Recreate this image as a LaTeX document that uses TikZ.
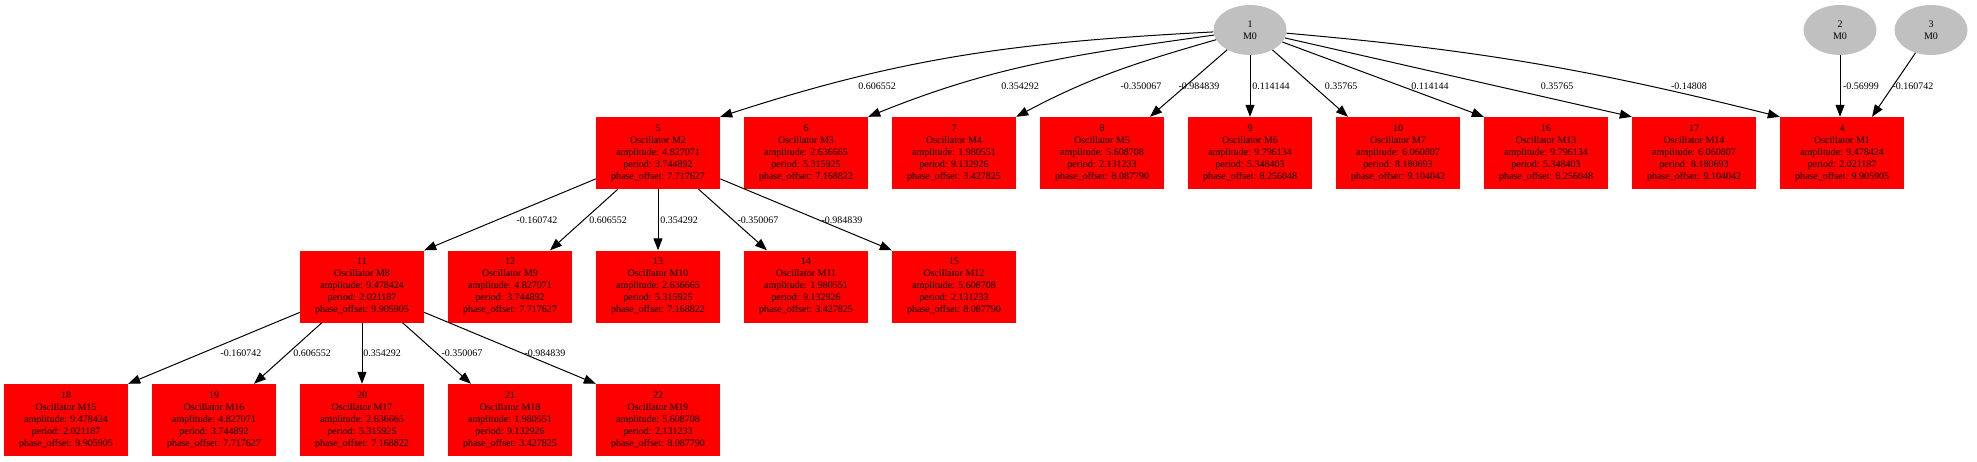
\documentclass[tikz,border=0pt]{standalone}
\usepackage{fontspec}
\setmainfont{Liberation Serif}
\usetikzlibrary{shapes.geometric, arrows.meta}
\definecolor{srcgray}{RGB}{192,192,192}

\begin{document}
\begin{tikzpicture}[x=1pt, y=1pt,
  osc/.style={rectangle, fill=red, minimum width=124pt, minimum height=72pt, inner sep=0pt, align=center, font=\fontsize{10}{12}\selectfont},
  src/.style={ellipse, fill=srcgray, minimum width=73pt, minimum height=50pt, inner sep=0pt, align=center, font=\fontsize{10}{12}\selectfont},
  link/.style={-{Triangle[length=12pt, width=9pt]}, line width=1pt},
  lbl/.style={inner sep=0pt, font=\fontsize{10}{12}\selectfont}]
\useasboundingbox (0,0) rectangle (1977,461);
\node[src] (n1) at (1250,431) {1\\M0};
\node[src] (n2) at (1840,431) {2\\M0};
\node[src] (n3) at (1931,431) {3\\M0};
\node[osc] (n5) at (658,308) {5\\Oscillator M2\\amplitude: 4.827071\\period: 3.744892\\phase\_offset: 7.717627};
\node[osc] (n6) at (806,308) {6\\Oscillator M3\\amplitude: 2.636665\\period: 5.315925\\phase\_offset: 7.168822};
\node[osc] (n7) at (954,308) {7\\Oscillator M4\\amplitude: 1.980551\\period: 9.132926\\phase\_offset: 3.427825};
\node[osc] (n8) at (1102,308) {8\\Oscillator M5\\amplitude: 5.608708\\period: 2.131233\\phase\_offset: 8.087790};
\node[osc] (n9) at (1250,308) {9\\Oscillator M6\\amplitude: 9.796134\\period: 5.348403\\phase\_offset: 8.256048};
\node[osc] (n10) at (1398,308) {10\\Oscillator M7\\amplitude: 6.060807\\period: 8.180693\\phase\_offset: 9.104042};
\node[osc] (n16) at (1546,308) {16\\Oscillator M13\\amplitude: 9.796134\\period: 5.348403\\phase\_offset: 8.256048};
\node[osc] (n17) at (1694,308) {17\\Oscillator M14\\amplitude: 6.060807\\period: 8.180693\\phase\_offset: 9.104042};
\node[osc] (n4) at (1842,308) {4\\Oscillator M1\\amplitude: 9.478424\\period: 2.021187\\phase\_offset: 9.905905};
\node[osc] (n11) at (362,174.5) {11\\Oscillator M8\\amplitude: 9.478424\\period: 2.021187\\phase\_offset: 9.905905};
\node[osc] (n12) at (510,174.5) {12\\Oscillator M9\\amplitude: 4.827071\\period: 3.744892\\phase\_offset: 7.717627};
\node[osc] (n13) at (658,174.5) {13\\Oscillator M10\\amplitude: 2.636665\\period: 5.315925\\phase\_offset: 7.168822};
\node[osc] (n14) at (806,174.5) {14\\Oscillator M11\\amplitude: 1.980551\\period: 9.132926\\phase\_offset: 3.427825};
\node[osc] (n15) at (954,174.5) {15\\Oscillator M12\\amplitude: 5.608708\\period: 2.131233\\phase\_offset: 8.087790};
\node[osc] (n18) at (66,41) {18\\Oscillator M15\\amplitude: 9.478424\\period: 2.021187\\phase\_offset: 9.905905};
\node[osc] (n19) at (214,41) {19\\Oscillator M16\\amplitude: 4.827071\\period: 3.744892\\phase\_offset: 7.717627};
\node[osc] (n20) at (362,41) {20\\Oscillator M17\\amplitude: 2.636665\\period: 5.315925\\phase\_offset: 7.168822};
\node[osc] (n21) at (510,41) {21\\Oscillator M18\\amplitude: 1.980551\\period: 9.132926\\phase\_offset: 3.427825};
\node[osc] (n22) at (658,41) {22\\Oscillator M19\\amplitude: 5.608708\\period: 2.131233\\phase\_offset: 8.087790};
\draw[link] (n1) to[out=183, in=18] (n5.north east);
\draw[link] (n1) to[out=188, in=22] (n6.north east);
\draw[link] (n1) to[out=196, in=28] (n7.north east);
\draw[link] (n1) -- ([xshift=48pt]n8.north);
\draw[link] (n1) -- (n9);
\draw[link] (n1) -- ([xshift=-50pt]n10.north);
\draw[link] (n1) -- (n16.north west);
\draw[link] (n1) -- (n17.north west);
\draw[link] (n1) to[out=-5, in=166] (n4.north west);
\draw[link] (n2) -- (n2 |- n4.north);
\draw[link] (n3) -- ([xshift=30pt]n4.north);
\draw[link] (n5) -- (n11.north east);
\draw[link] (n5) -- ([xshift=40pt]n12.north);
\draw[link] (n5) -- (n13);
\draw[link] (n5) -- ([xshift=-39pt]n14.north);
\draw[link] (n5) -- (n15.north west);
\draw[link] (n11) -- (n18.north east);
\draw[link] (n11) -- ([xshift=40pt]n19.north);
\draw[link] (n11) -- (n20);
\draw[link] (n11) -- ([xshift=-39pt]n21.north);
\draw[link] (n11) -- (n22.north west);
\node[lbl] (l15) at (877,375) {0.606552};
\node[lbl] (l16) at (1020,375) {0.354292};
\node[lbl] (l17) at (1141,375) {-0.350067};
\node[lbl] (l18) at (1199,375) {-0.984839};
\node[lbl] (l19) at (1271,375) {0.114144};
\node[lbl] (l110) at (1341,375) {0.35765};
\node[lbl] (l116) at (1430,375) {0.114144};
\node[lbl] (l117) at (1557,375) {0.35765};
\node[lbl] (l14) at (1689,375) {-0.14808};
\node[lbl] (l24) at (1861,375) {-0.56999};
\node[lbl] (l34) at (1913,375) {-0.160742};
\node[lbl] (l511) at (537,241) {-0.160742};
\node[lbl] (l512) at (608,241) {0.606552};
\node[lbl] (l513) at (679,241) {0.354292};
\node[lbl] (l514) at (758,241) {-0.350067};
\node[lbl] (l515) at (842,241) {-0.984839};
\node[lbl] (l1118) at (241,108) {-0.160742};
\node[lbl] (l1119) at (312,108) {0.606552};
\node[lbl] (l1120) at (382,108) {0.354292};
\node[lbl] (l1121) at (462,108) {-0.350067};
\node[lbl] (l1122) at (545,108) {-0.984839};
\end{tikzpicture}
\end{document}
